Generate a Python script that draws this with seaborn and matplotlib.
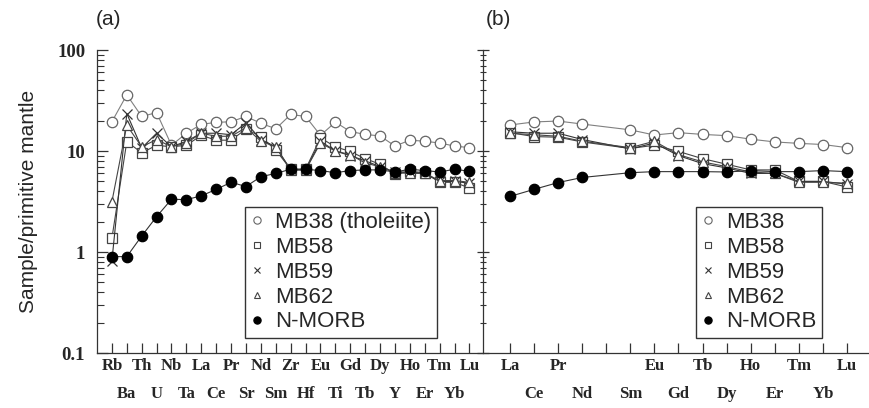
import matplotlib
matplotlib.use("Agg")
import matplotlib.pyplot as plt
from matplotlib.lines import Line2D
from matplotlib.ticker import LogLocator, NullFormatter, FixedLocator, FixedFormatter
import seaborn as sns
import pandas as pd
import numpy as np

# Elementos (painel a: multi-elementos, painel b: terras raras)
elemA = ['Rb', 'Ba', 'Th', 'U', 'Nb', 'Ta', 'La', 'Ce', 'Pr', 'Sr', 'Nd', 'Sm', 'Zr',
         'Hf', 'Eu', 'Ti', 'Gd', 'Tb', 'Dy', 'Y', 'Ho', 'Er', 'Tm', 'Yb', 'Lu']
elemB = ['La', 'Ce', 'Pr', 'Nd', 'Pm', 'Sm', 'Eu', 'Gd', 'Tb', 'Dy', 'Ho', 'Er', 'Tm', 'Yb', 'Lu']

# Valores normalizados ao manto primitivo
mb38A = [19.5, 36, 22, 24, 11.4, 15, 18.4, 19.2, 19.5, 22, 18.8, 16.6, 23,
         22, 14.3, 19.3, 15.6, 14.6, 14.1, 11.2, 12.8, 12.5, 12.0, 11.2, 10.8]
mb58A = [1.37, 12.4, 9.6, 11.4, 11.0, 11.4, 14.3, 12.8, 12.8, 16.5, 13.9, 10.2, 6.6,
         6.6, 13.5, 11.0, 9.9, 8.4, 7.4, 5.9, 6.3, 6.1, 4.9, 4.9, 4.3]
mb59A = [0.82, 23.5, 10.7, 15, 11, 12.5, 15, 15, 14.5, 19, 13, 11, 6.5,
         6.5, 12.5, 10, 9, 8, 7, 6.2, 6.2, 6, 5, 5, 4.8]
mb62A = [3.15, 18, 11, 13, 11, 12, 15, 14, 14, 17, 12.5, 11, 6.5,
         6.5, 12, 10, 9.2, 7.6, 7, 6.1, 6, 6, 5.1, 5.1, 4.9]
nmorbA = [0.9, 0.9, 1.44, 2.24, 3.33, 3.3, 3.6, 4.17, 4.9, 4.45, 5.57, 6.0, 6.6,
          6.6, 6.4, 6.1, 6.4, 6.5, 6.5, 6.2, 6.6, 6.4, 6.2, 6.6, 6.3]

mb38B = [18.1, 19.4, 19.8, 18.5, np.nan, 16.2, 14.4, 15.2, 14.6, 14.2, 13.1, 12.3, 11.9, 11.6, 10.8]
mb58B = [15.2, 13.9, 13.7, 12.3, np.nan, 10.6, 11.4, 9.9, 8.4, 7.4, 6.5, 6.5, 5.0, 5.0, 4.4]
mb59B = [15.5, 15, 15, 13, np.nan, 10.5, 12, 9, 7.5, 6.8, 6, 6, 5, 5, 4.7]
mb62B = [15, 14.5, 14, 12.5, np.nan, 10.8, 12.5, 9.2, 7.8, 7, 6.2, 6, 4.9, 4.9, 4.8]
nmorbB = [3.55, 4.17, 4.87, 5.47, np.nan, 6.1, 6.25, 6.25, 6.25, 6.2, 6.4, 6.25, 6.25, 6.4, 6.25]

# Estilo de cada amostra: (marcador, cor da borda, preenchimento, cor da linha, tamanho)
estilos = {
    'MB38': ('o', '#666666', 'white', '#808080', 7.5),
    'MB58': ('s', '#444444', 'white', '#444444', 6.5),
    'MB59': ('x', '#333333', 'none', '#333333', 6.5),
    'MB62': ('^', '#444444', 'white', '#444444', 6.5),
    'N-MORB': ('o', 'black', 'black', '#333333', 7.5),
}

sns.set_style('ticks')
plt.rcParams['font.family'] = ['Liberation Sans', 'DejaVu Sans']

fig = plt.figure(figsize=(8.7, 4.08), dpi=100)
axA = fig.add_axes([0.1115, 0.1348, 0.4425, 0.7426])
axB = fig.add_axes([0.5551, 0.1348, 0.4429, 0.7426])

def desenhar(ax, elementos, series):
    df = pd.DataFrame(series)
    df['pos'] = np.arange(len(elementos))
    for nome, (mk, ec, fc, lc, ms) in estilos.items():
        d = df[['pos', nome]].dropna()
        sns.lineplot(x=d['pos'], y=d[nome], ax=ax, color=lc, lw=0.8, marker=mk,
                     markersize=ms, markeredgecolor=ec, markerfacecolor=fc,
                     markeredgewidth=0.9, sort=False, legend=False, zorder=3)

def eixos(ax, elementos, ticks_dir):
    ax.set_yscale('log')
    ax.set_ylim(0.1, 100)
    ax.set_xlabel('')
    ax.set_ylabel('')
    # rótulos alternados em duas linhas: pares em cima (major), ímpares em baixo (minor)
    pos = np.arange(len(elementos))
    nomes = ['' if e == 'Pm' else e for e in elementos]
    ax.xaxis.set_major_locator(FixedLocator(pos[::2]))
    ax.xaxis.set_major_formatter(FixedFormatter(nomes[::2]))
    ax.xaxis.set_minor_locator(FixedLocator(pos[1::2]))
    ax.xaxis.set_minor_formatter(FixedFormatter(nomes[1::2]))
    for t in ax.get_xticklabels(which='both'):
        t.set_fontfamily('Liberation Serif')
        t.set_fontweight('bold')
        t.set_fontsize(12)
    ax.tick_params(axis='x', which='major', direction='in', length=7, width=0.9, pad=3.5, color='#333333')
    ax.tick_params(axis='x', which='minor', direction='in', length=7, width=0.9, pad=24, color='#333333')
    ax.yaxis.set_major_locator(LogLocator(base=10, numticks=10))
    ax.yaxis.set_minor_locator(LogLocator(base=10, subs=np.arange(2, 10), numticks=10))
    ax.yaxis.set_minor_formatter(NullFormatter())
    ax.tick_params(axis='y', which='major', direction=ticks_dir, length=8, width=0.9, color='#333333')
    ax.tick_params(axis='y', which='minor', direction=ticks_dir, length=5, width=0.8, color='#333333')
    for s in ['top', 'right']:
        ax.spines[s].set_visible(False)
    for s in ['left', 'bottom']:
        ax.spines[s].set_linewidth(0.9)
        ax.spines[s].set_color('#333333')

desenhar(axA, elemA, {'MB38': mb38A, 'MB58': mb58A, 'MB59': mb59A, 'MB62': mb62A, 'N-MORB': nmorbA})
desenhar(axB, elemB, {'MB38': mb38B, 'MB58': mb58B, 'MB59': mb59B, 'MB62': mb62B, 'N-MORB': nmorbB})

eixos(axA, elemA, 'in')
eixos(axB, elemB, 'inout')
axA.set_xlim(-1.0, 24.84)
axB.set_xlim(-1.12, 14.88)

axA.set_yticks([0.1, 1, 10, 100])
axA.set_yticklabels(['0.1', '1', '10', '100'], fontfamily='Liberation Serif',
                    fontweight='bold', fontsize=13.5)
axA.tick_params(axis='y', which='major', pad=8.5)
axB.tick_params(axis='y', which='both', labelleft=False)
axA.set_ylabel('Sample/primitive mantle', fontsize=15, labelpad=14)

axA.text(0.03, 1.1, '(a)', transform=axA.transAxes, fontsize=15, va='center', ha='center')
axB.text(0.04, 1.1, '(b)', transform=axB.transAxes, fontsize=15, va='center', ha='center')

def legenda(ax, rotulo38, x0):
    hs = []
    for nome, (mk, ec, fc, lc, ms) in estilos.items():
        rot = rotulo38 if nome == 'MB38' else nome
        hs.append(Line2D([], [], linestyle='none', marker=mk, markersize=ms * 0.7,
                         markeredgecolor=ec, markerfacecolor=fc, markeredgewidth=0.8, label=rot))
    leg = ax.legend(handles=hs, loc='lower left', bbox_to_anchor=(x0, 0.05), fontsize=16,
                    frameon=True, fancybox=False, framealpha=1, edgecolor='#333333',
                    handlelength=0.6, handletextpad=0.5, labelspacing=0.17, borderpad=0.25,
                    borderaxespad=0)
    leg.get_frame().set_linewidth(1.0)

legenda(axA, 'MB38 (tholeiite)', 0.384)
legenda(axB, 'MB38', 0.553)

fig.savefig('out.png', dpi=100)
